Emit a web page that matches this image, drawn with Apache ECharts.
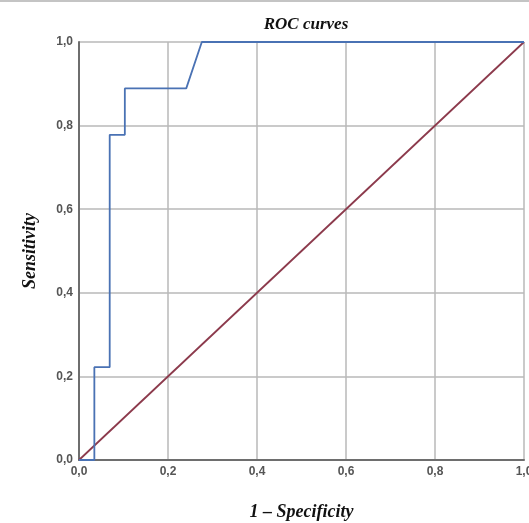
<!DOCTYPE html>
<html>
<head>
<meta charset="utf-8">
<script src="https://cdn.jsdelivr.net/npm/echarts@6/dist/echarts.min.js"></script>
<style>
  html, body { margin: 0; padding: 0; background: #fff; }
  #chart { width: 529px; height: 523px; }
</style>
</head>
<body>
<div id="chart"></div>
<script>
// ROC curve points (1 - specificity, sensitivity)
const rocX = [0, 0.0345, 0.0345, 0.069, 0.069, 0.103, 0.103, 0.241, 0.276, 1];
const rocY = [0, 0, 0.222, 0.222, 0.778, 0.778, 0.889, 0.889, 1, 1];
// reference diagonal
const refX = [0, 1];
const refY = [0, 1];
const tickLabels = ['0,0', '0,2', '0,4', '0,6', '0,8', '1,0'];

const fmt = v => tickLabels[Math.round(v * 5)];

const chart = echarts.init(document.getElementById('chart'));

const option = {
    animation: false,
    title: {
        text: 'ROC curves',
        left: 301,
        top: 11,
        textAlign: 'center',
        textStyle: {
            fontFamily: 'Liberation Serif',
            fontStyle: 'italic',
            fontWeight: 'bold',
            fontSize: 17,
            color: '#111'
        }
    },
    graphic: [{
        type: 'line',
        shape: { x1: 0, y1: 1, x2: 529, y2: 1 },
        style: { stroke: '#c4c4c4', lineWidth: 2 }
    }],
    grid: { left: 79, right: 5, top: 42, bottom: 63, outerBoundsMode: 'none', containLabel: false },
    xAxis: {
        type: 'value',
        min: 0, max: 1, interval: 0.2,
        name: '1 – Specificity',
        nameLocation: 'middle',
        nameGap: 43,
        nameTextStyle: {
            fontFamily: 'Liberation Serif',
            fontStyle: 'italic',
            fontWeight: 'bold',
            fontSize: 18,
            color: '#111'
        },
        axisLine: { lineStyle: { color: '#6e6e6e', width: 2 } },
        axisTick: { show: false },
        axisLabel: {
            formatter: fmt,
            margin: 6,
            fontFamily: 'Liberation Sans',
            fontSize: 12,
            fontWeight: 'bold',
            color: '#555'
        },
        splitLine: { lineStyle: { color: '#b8b8b8', width: 1.5 } }
    },
    yAxis: {
        type: 'value',
        min: 0, max: 1, interval: 0.2,
        name: 'Sensitivity',
        nameLocation: 'middle',
        nameGap: 40,
        nameTextStyle: {
            fontFamily: 'Liberation Serif',
            fontStyle: 'italic',
            fontWeight: 'bold',
            fontSize: 18,
            color: '#111'
        },
        axisLine: { show: true, lineStyle: { color: '#6e6e6e', width: 2 } },
        axisTick: { show: false },
        axisLabel: {
            formatter: fmt,
            margin: 6,
            fontFamily: 'Liberation Sans',
            fontSize: 12,
            fontWeight: 'bold',
            color: '#555'
        },
        splitLine: { lineStyle: { color: '#b8b8b8', width: 1.5 } }
    },
    series: [
        {
            type: 'line',
            name: 'ROC',
            data: rocX.map((x, i) => [x, rocY[i]]),
            showSymbol: false,
            lineStyle: { color: '#4a72b4', width: 1.8 },
            z: 3
        },
        {
            type: 'line',
            name: 'Reference',
            data: refX.map((x, i) => [x, refY[i]]),
            showSymbol: false,
            lineStyle: { color: '#8c3a4c', width: 1.8 },
            z: 2
        }
    ]
};

chart.setOption(option);
</script>
</body>
</html>
